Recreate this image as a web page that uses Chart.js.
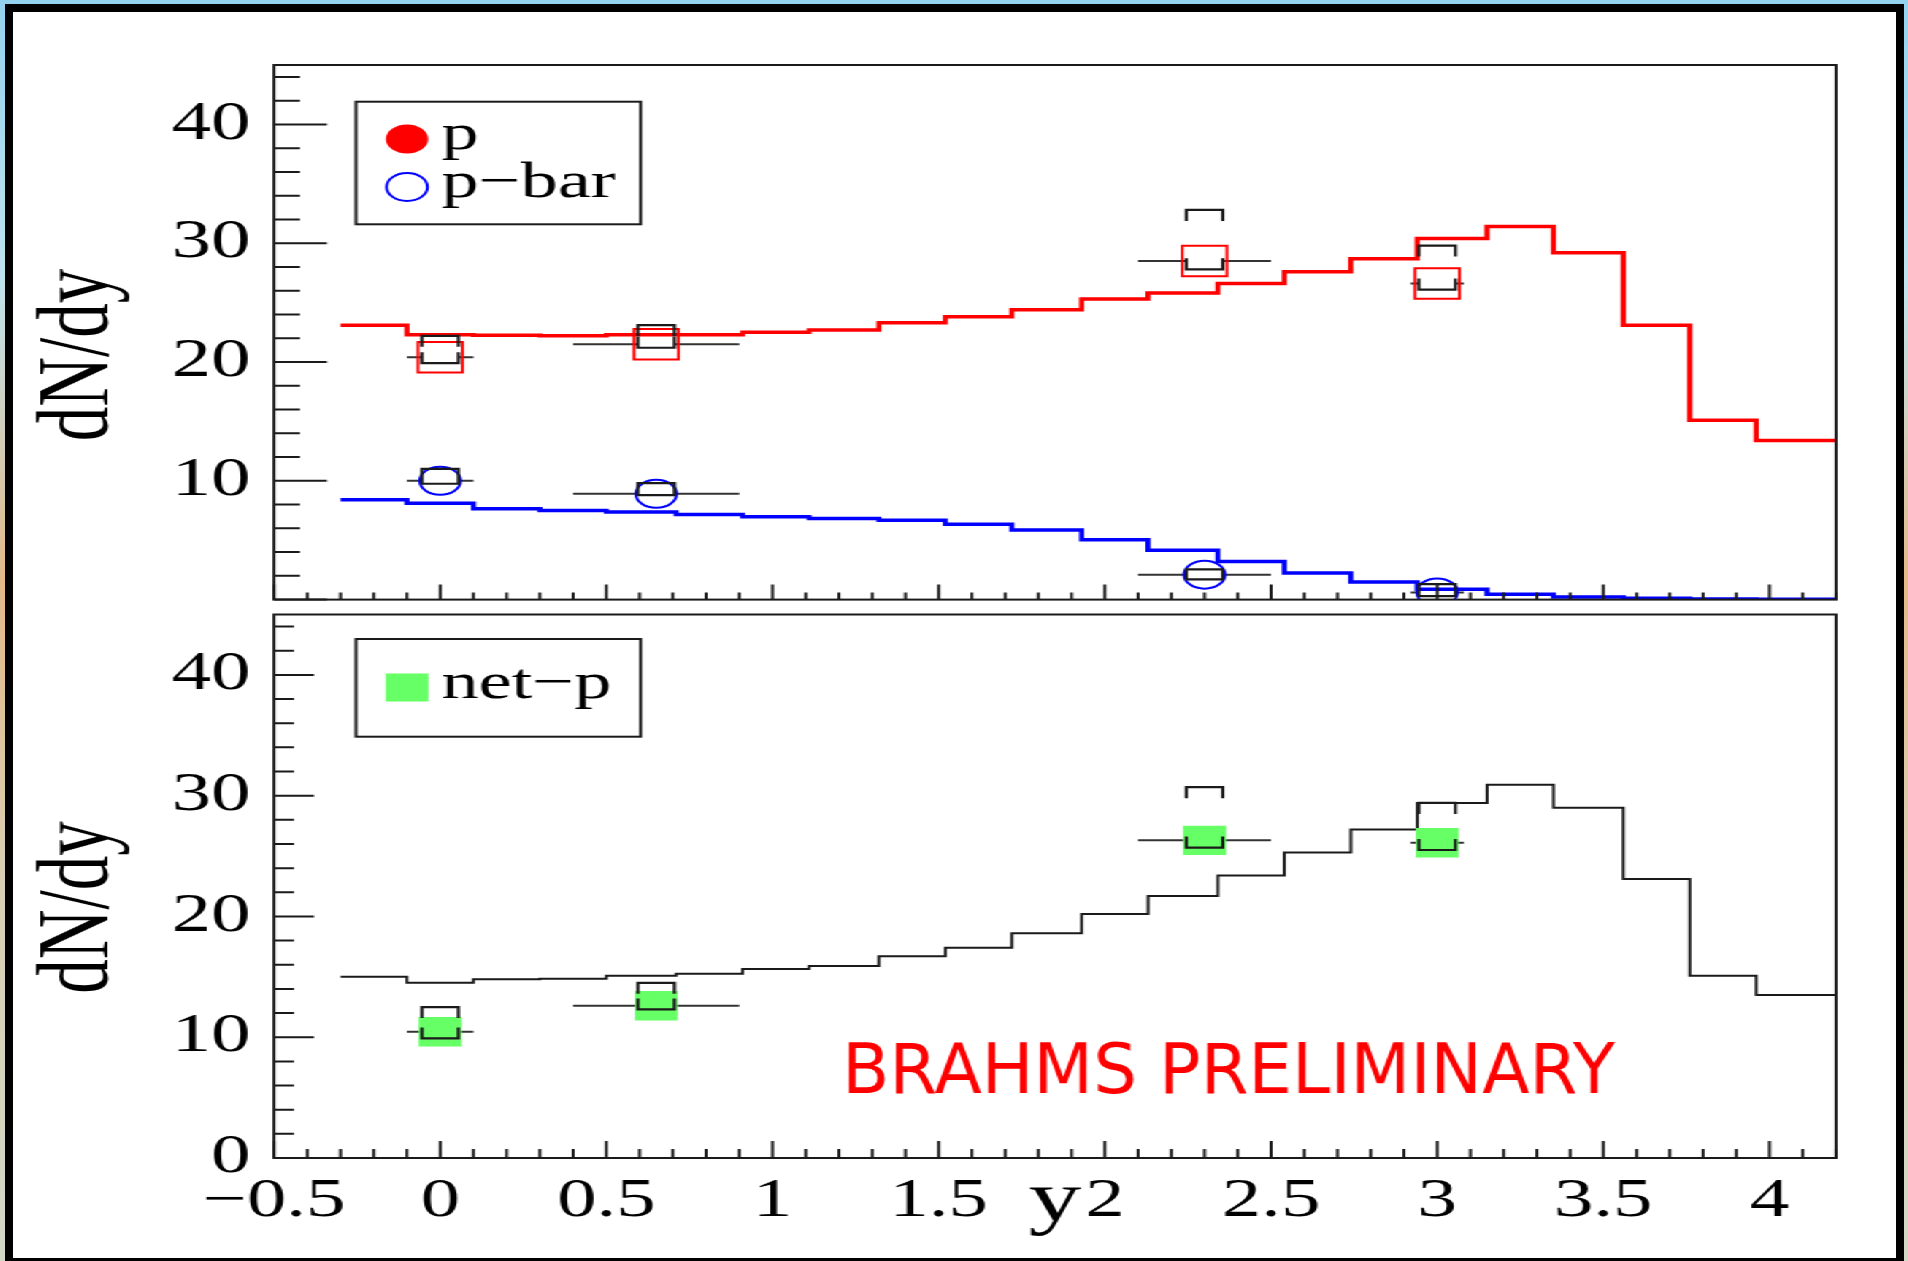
<!DOCTYPE html>
<html>
<head>
<meta charset="utf-8">
<title>dN/dy vs y</title>
<script src="https://cdn.jsdelivr.net/npm/chart.js@4.4.1/dist/chart.umd.min.js"></script>
<style>
  html, body { margin: 0; padding: 0; }
  body {
    width: 1908px; height: 1261px; overflow: hidden; position: relative;
    background: linear-gradient(180deg, #93d2ee 0%, #bfe3ee 22%, #e3b988 46%, #d9cfb4 70%, #d2d8c6 100%);
  }
  .slide {
    position: absolute; left: 5px; top: 4px; width: 1899px; height: 1262px;
    box-sizing: border-box; border: 8px solid #000; background: #fff;
  }
  /* the plot is drawn narrow and stretched sideways, fonts and markers included */
  .stretch {
    position: absolute; left: 14px; top: 14px; width: 1289px; height: 1240px;
    transform: scaleX(1.46); transform-origin: 0 0;
  }
  .stretch canvas { position: absolute; left: 0; display: block; }
</style>
</head>
<body>
<div class="slide"></div>
<div class="stretch">
  <canvas id="upper" width="1289" height="626" style="top:0;width:1289px;height:626px"></canvas>
  <canvas id="lower" width="1289" height="694" style="top:546px;width:1289px;height:694px"></canvas>
</div>
<script>
// model histograms: bin edges in y and dN/dy per bin
const binEdges = [-0.30, -0.10, 0.10, 0.30, 0.50, 0.71, 0.91, 1.11, 1.32, 1.52, 1.72,
                  1.93, 2.13, 2.34, 2.54, 2.74, 2.94, 3.15, 3.35, 3.56, 3.76, 3.96, 4.20];
const protonModel = [23.1, 22.3, 22.25, 22.2, 22.3, 22.3, 22.5, 22.7, 23.3, 23.8, 24.4,
                     25.3, 25.8, 26.6, 27.6, 28.7, 30.4, 31.4, 29.2, 23.1, 15.1, 13.4];
const pbarModel = [8.4, 8.1, 7.65, 7.5, 7.38, 7.16, 6.97, 6.83, 6.67, 6.34, 5.85,
                   5.03, 4.15, 3.2, 2.24, 1.48, 0.87, 0.44, 0.22, 0.11, 0.05, 0.02];
const netModel = [15.0, 14.5, 14.8, 14.85, 15.1, 15.25, 15.65, 15.9, 16.7, 17.4, 18.6,
                  20.2, 21.7, 23.4, 25.3, 27.2, 29.4, 30.9, 29.0, 23.1, 15.1, 13.5];

// measured points, with rapidity ranges and systematic limits
const rapidity = [0.0, 0.65, 2.3, 3.0];
const rapidityLow = [-0.1, 0.4, 2.1, 2.92];
const rapidityHigh = [0.1, 0.9, 2.5, 3.08];

const protonYield = [20.4, 21.5, 28.5, 26.6];
const protonSysLow = [19.9, 21.2, 27.8, 26.1];
const protonSysHigh = [22.2, 23.1, 32.8, 29.8];

const pbarYield = [10.0, 8.9, 2.1, 0.6];
const pbarSysLow = [9.75, 8.8, 1.7, 0.3];
const pbarSysHigh = [11.0, 9.8, 2.55, 1.3];

const netYield = [10.45, 12.6, 26.3, 26.1];
const netSysLow = [9.9, 12.3, 25.7, 25.5];
const netSysHigh = [12.5, 14.5, 30.7, 29.4];

const xTicks = [-0.5, 0, 0.5, 1, 1.5, 2, 2.5, 3, 3.5, 4];
const yTicks = [0, 10, 20, 30, 40];

const STRETCH = 1.46;
const SERIF = "'Liberation Serif', 'Times New Roman', serif";
const INK = '#1a1a1a';
const AXIS_W = 178.1;
const PAD_RIGHT = 41.05;
const BH = 12.5;   // half width of the systematic brackets
const LEG = 11;    // bracket leg length

function toPoints(values) {
  return rapidity.map((x, i) => ({ x, y: values[i] }));
}

function toHistogram(values) {
  const pts = values.map((v, i) => ({ x: binEdges[i], y: v }));
  pts.push({ x: binEdges[values.length], y: values[values.length - 1] });
  return pts;
}

function histogram(values, color, width) {
  return {
    data: toHistogram(values), showLine: true, stepped: 'before', fill: false,
    borderColor: color, borderWidth: width, borderJoinStyle: 'miter', borderCapStyle: 'butt',
    pointRadius: 0, pointHoverRadius: 0, order: 3
  };
}

function measured(values, low, high, style) {
  return Object.assign({
    data: toPoints(values), showLine: false, order: 1,
    xLow: rapidityLow, xHigh: rapidityHigh, sysLow: low, sysHigh: high
  }, style);
}

// frame, inward ticks, error bars, brackets, legend and titles for one pad
function padDecor(opt) {
  return {
    id: 'padDecor',
    beforeDatasetsDraw(chart) {
      const { ctx, scales: { x, y } } = chart;
      ctx.save();
      ctx.strokeStyle = '#333';
      ctx.lineWidth = 2;
      chart.data.datasets.forEach(ds => {
        if (!ds.xLow) return;
        ds.data.forEach((pt, i) => {
          const px = x.getPixelForValue(pt.x);
          const py = y.getPixelForValue(pt.y);
          const l = x.getPixelForValue(ds.xLow[i]);
          const r = x.getPixelForValue(ds.xHigh[i]);
          ctx.beginPath();
          if (l < px - BH) { ctx.moveTo(l, py); ctx.lineTo(px - BH, py); }
          if (r > px + BH) { ctx.moveTo(px + BH, py); ctx.lineTo(r, py); }
          ctx.stroke();
        });
      });
      ctx.restore();
    },
    afterDatasetsDraw(chart) {
      const { ctx, scales: { x, y } } = chart;
      ctx.save();
      ctx.strokeStyle = INK;
      ctx.lineWidth = 2.2;
      chart.data.datasets.forEach(ds => {
        if (!ds.sysLow) return;
        ds.data.forEach((pt, i) => {
          const px = x.getPixelForValue(pt.x);
          const hi = y.getPixelForValue(ds.sysHigh[i]);
          const lo = y.getPixelForValue(ds.sysLow[i]);
          ctx.beginPath();
          ctx.moveTo(px - BH, hi + LEG); ctx.lineTo(px - BH, hi);
          ctx.lineTo(px + BH, hi); ctx.lineTo(px + BH, hi + LEG);
          ctx.moveTo(px - BH, lo - LEG); ctx.lineTo(px - BH, lo);
          ctx.lineTo(px + BH, lo); ctx.lineTo(px + BH, lo - LEG);
          ctx.stroke();
        });
      });
      ctx.restore();
    },
    afterDraw(chart) {
      const { ctx, chartArea: a, scales: { x, y } } = chart;
      ctx.save();
      ctx.strokeStyle = INK;
      ctx.lineWidth = 2;
      ctx.strokeRect(a.left, a.top, a.right - a.left, a.bottom - a.top);

      ctx.beginPath();
      for (let k = 0; k <= 22; k++) {
        const py = y.getPixelForValue(2 * k);
        ctx.moveTo(a.left, py);
        ctx.lineTo(a.left + (k % 5 === 0 ? opt.yTick[0] : opt.yTick[1]), py);
      }
      for (let k = -5; k <= 42; k++) {
        const px = x.getPixelForValue(k / 10);
        ctx.moveTo(px, a.bottom);
        ctx.lineTo(px, a.bottom - (k % 5 === 0 ? opt.xTick[0] : opt.xTick[1]));
      }
      ctx.stroke();

      // legend box
      const L = opt.legend;
      ctx.strokeRect(a.left + L.box[0], a.top + L.box[1], L.box[2], L.box[3]);
      ctx.font = `51px ${SERIF}`;
      ctx.textAlign = 'left';
      ctx.textBaseline = 'alphabetic';
      L.items.forEach(it => {
        const cx = a.left + it.at[0];
        const cy = a.top + it.at[1];
        ctx.beginPath();
        if (it.shape === 'disc') {
          ctx.arc(cx, cy, 14.5, 0, 2 * Math.PI);
          ctx.fillStyle = it.color;
          ctx.fill();
        } else if (it.shape === 'ring') {
          ctx.arc(cx, cy, 14, 0, 2 * Math.PI);
          ctx.strokeStyle = it.color;
          ctx.stroke();
        } else {
          ctx.fillStyle = it.color;
          ctx.fillRect(cx - 14.6, cy - 14, 29.2, 28);
        }
        ctx.fillStyle = '#000';
        ctx.fillText(it.text, cx + 23.5, cy + 10);
      });

      // rotated y title
      ctx.save();
      ctx.translate(a.left + opt.titleAt[0], a.top + opt.titleAt[1]);
      ctx.rotate(-Math.PI / 2);
      ctx.font = `69px ${SERIF}`;
      ctx.fillStyle = '#000';
      ctx.textAlign = 'center';
      ctx.fillText('dN/dy', 0, 0);
      ctx.restore();

      // stamp drawn without the sideways stretch
      if (opt.note) {
        ctx.save();
        ctx.scale(1 / STRETCH, 1);
        ctx.font = "69px 'DejaVu Sans', sans-serif";
        ctx.fillStyle = '#ff0000';
        ctx.textAlign = 'left';
        ctx.fillText(opt.note.text, a.left * STRETCH + opt.note.at[0], a.top + opt.note.at[1]);
        ctx.restore();
      }
      ctx.restore();
    }
  };
}

function yScale(hideZero) {
  return {
    type: 'linear', min: 0, max: 45,
    afterBuildTicks: s => { s.ticks = yTicks.map(v => ({ value: v })); },
    ticks: {
      font: { family: SERIF, size: 54 }, color: '#000', padding: 8, autoSkip: false,
      callback: v => (hideZero && v === 0) ? '' : String(v)
    },
    grid: { display: false },
    border: { display: false },
    afterFit: s => { s.width = AXIS_W; }
  };
}

const common = {
  responsive: false,
  animation: false,
  devicePixelRatio: 1,
  events: [],
  plugins: { legend: { display: false }, tooltip: { enabled: false } }
};

new Chart(document.getElementById('upper'), {
  type: 'scatter',
  data: {
    datasets: [
      measured(pbarYield, pbarSysLow, pbarSysHigh, {
        label: 'p-bar', pointStyle: 'circle', pointRadius: 14,
        pointBorderColor: '#0000ff', pointBackgroundColor: 'rgba(0,0,0,0)', pointBorderWidth: 2
      }),
      measured(protonYield, protonSysLow, protonSysHigh, {
        label: 'p', pointStyle: 'rect', pointRadius: 21.6,
        pointBorderColor: '#ff0000', pointBackgroundColor: 'rgba(0,0,0,0)', pointBorderWidth: 2
      }),
      histogram(protonModel, '#ff0000', 3.5),
      histogram(pbarModel, '#0000ff', 3.5)
    ]
  },
  options: Object.assign({}, common, {
    layout: { padding: { left: 0, top: 51, right: PAD_RIGHT, bottom: 25.5 } },
    scales: {
      x: {
        type: 'linear', min: -0.5, max: 4.2,
        ticks: { display: false }, grid: { display: false }, border: { display: false },
        afterFit: s => { s.height = 0; }
      },
      y: yScale(true)
    }
  }),
  plugins: [padDecor({
    yTick: [36.3, 17.8], xTick: [15, 7],
    titleAt: [-114.6, 290],
    legend: {
      box: [56.2, 36.7, 194.9, 122.6],
      items: [
        { shape: 'disc', color: '#ff0000', at: [91.1, 74], text: 'p' },
        { shape: 'ring', color: '#0000ff', at: [91.1, 122], text: 'p\u2212bar' }
      ]
    }
  })]
});

new Chart(document.getElementById('lower'), {
  type: 'scatter',
  data: {
    datasets: [
      measured(netYield, netSysLow, netSysHigh, {
        label: 'net-p', pointStyle: 'rect', pointRadius: 20.8,
        pointBorderColor: '#66ff66', pointBackgroundColor: '#66ff66', pointBorderWidth: 0
      }),
      histogram(netModel, INK, 2)
    ]
  },
  options: Object.assign({}, common, {
    layout: { padding: { left: 0, top: 54.5, right: PAD_RIGHT, bottom: 0 } },
    scales: {
      x: {
        type: 'linear', min: -0.5, max: 4.2,
        afterBuildTicks: s => { s.ticks = xTicks.map(v => ({ value: v })); },
        ticks: {
          font: { family: SERIF, size: 54 }, color: '#000', padding: 3,
          autoSkip: false, maxRotation: 0, minRotation: 0,
          callback: v => v < 0 ? '\u2212' + Math.abs(v) : String(v)
        },
        title: {
          display: true, text: 'y', color: '#000',
          font: { family: SERIF, size: 72 }, padding: { top: 0, bottom: 9 }
        },
        grid: { display: false },
        border: { display: false },
        afterFit: s => { s.height = 96; }
      },
      y: yScale(false)
    }
  }),
  plugins: [padDecor({
    yTick: [27.4, 13.7], xTick: [17, 9],
    titleAt: [-114.6, 293],
    legend: {
      box: [56.2, 24.5, 194.9, 97.7],
      items: [
        { shape: 'square', color: '#66ff66', at: [91.1, 73], text: 'net\u2212p' }
      ]
    },
    note: { text: 'BRAHMS PRELIMINARY', at: [568, 478.5] }
  })]
});
</script>
</body>
</html>
